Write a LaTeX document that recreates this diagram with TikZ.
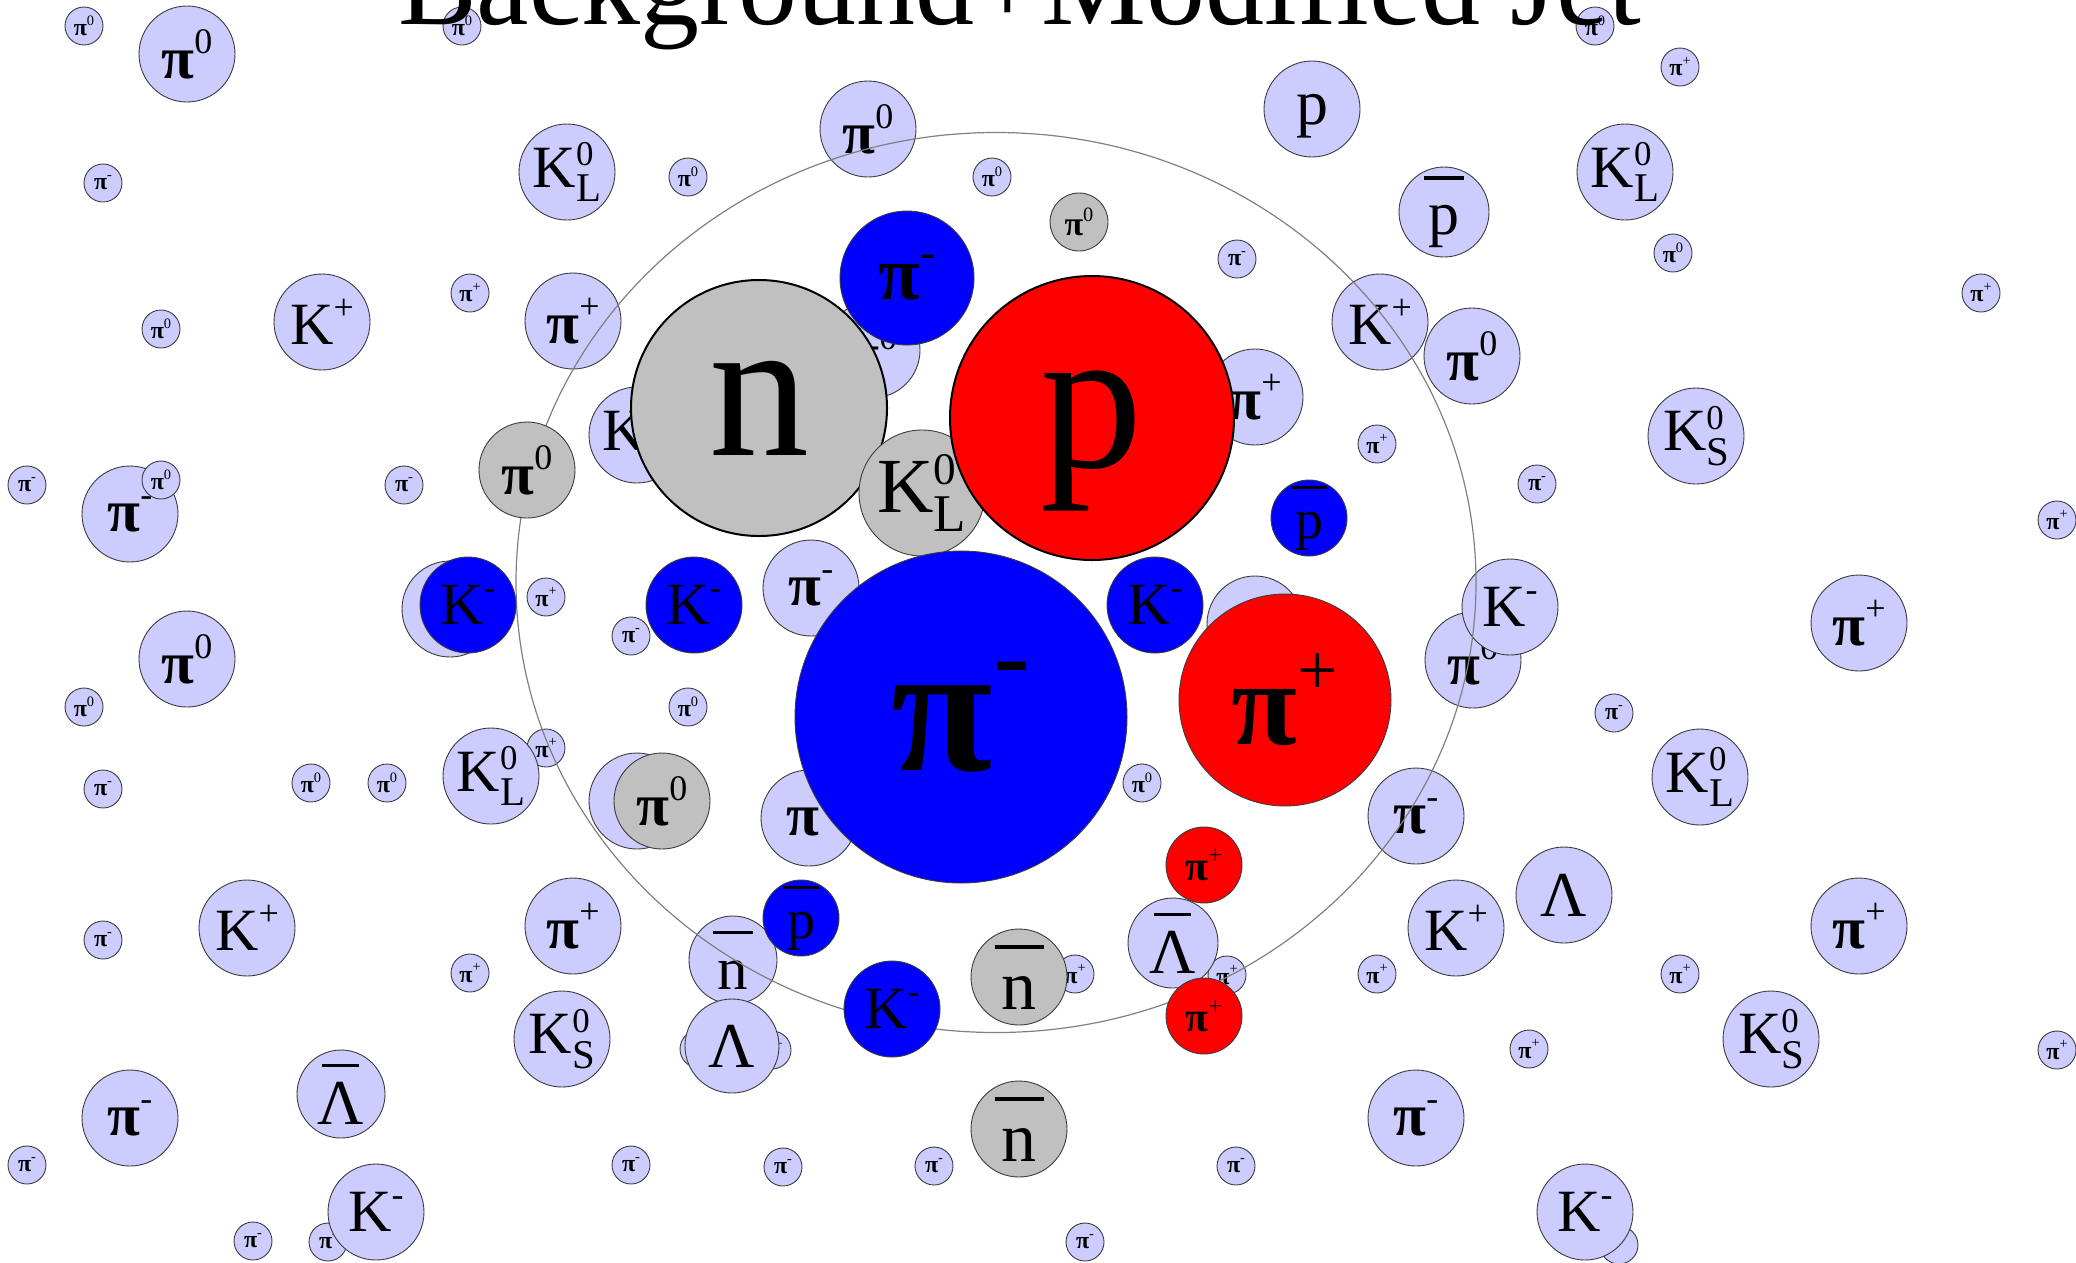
\documentclass[tikz,border=0pt]{standalone}
\usepackage{graphicx}
\usepackage{fontspec}
\setmainfont{Liberation Serif}
\usetikzlibrary{shapes.geometric}
\definecolor{lav}{RGB}{204,204,255}
\definecolor{blueA}{RGB}{0,0,255}
\definecolor{redA}{RGB}{255,0,0}
\definecolor{grayA}{RGB}{192,192,192}
\definecolor{edgeA}{RGB}{60,60,60}
\definecolor{jetA}{RGB}{128,128,128}
\newcommand\Lsup[1]{\raisebox{0.42em}{\scalebox{0.6}{#1}}}
\newcommand\Lsubsup[2]{\rlap{\raisebox{0.36em}{\scalebox{0.58}{#1}}}\raisebox{-0.24em}{\scalebox{0.68}{#2}}}
\newcommand\Lpi{{\bfseries π}}
\newcommand\Lpz{\Lpi\Lsup{0}}
\newcommand\Lpp{\Lpi\Lsup{+}}
\newcommand\Lpm{\Lpi\Lsup{-}}
\newcommand\LKp{K\Lsup{+}}
\newcommand\LKm{K\Lsup{-}}
\newcommand\LKL{K\Lsubsup{0}{L}}
\newcommand\LKS{K\Lsubsup{0}{S}}
\newcommand\Lbar[3]{\makebox[0pt][l]{\hspace{#1}\rule[#3]{#2}{0.055em}}}
\newcommand\Lnb{\Lbar{-0.07em}{0.64em}{0.9em}n}
\newcommand\Lnbg{\Lbar{-0.1em}{0.7em}{0.86em}n}
\newcommand\Lpb{\Lbar{-0.065em}{0.63em}{0.88em}p}
\newcommand\LLamb{\Lbar{0.07em}{0.58em}{0.89em}Λ}
\newcommand\Lp{\vphantom{d}p}
\newcommand\ptc[6]{\node[#1, minimum size=#4pt, label={[lab, font=\fontsize{#5}{#5}\selectfont]center:#6}] (#2) at (#3) {};}
\begin{document}
\begin{tikzpicture}[x=1pt,y=-1pt,
  base/.style={circle, inner sep=0pt, line width=0.9pt, draw=edgeA},
  lt/.style={base, fill=lav},
  bl/.style={base, fill=blueA},
  rd/.style={base, fill=redA},
  gy/.style={base, fill=grayA},
  thickedge/.style={line width=2pt, draw=black},
  lab/.style={inner sep=0pt, text=black},
  jetline/.style={ellipse, draw=jetA, line width=1.2pt, inner sep=0pt}]
\clip (0,0) rectangle (2076,1262);
% ---- light background particles
\ptc{lt}{s1}{84,26}{38}{24}{\Lpz}
\ptc{lt}{s2}{462,26}{38}{24}{\Lpz}
\ptc{lt}{s3}{1595,26}{38}{24}{\Lpz}
\ptc{lt}{s4}{1680,67}{38}{24}{\Lpp}
\ptc{lt}{s5}{103,183}{38}{24}{\Lpm}
\ptc{lt}{s6}{688,177}{38}{24}{\Lpz}
\ptc{lt}{s7}{992,177}{38}{24}{\Lpz}
\ptc{lt}{s8}{161,329}{38}{24}{\Lpz}
\ptc{lt}{s9}{470,293}{38}{24}{\Lpp}
\ptc{lt}{s10}{1237,259}{38}{24}{\Lpm}
\ptc{lt}{s11}{1673,253}{38}{24}{\Lpz}
\ptc{lt}{s12}{1981,293}{38}{24}{\Lpp}
\ptc{lt}{s13}{27,485}{38}{24}{\Lpm}
\ptc{lt}{s15}{404,485}{38}{24}{\Lpm}
\ptc{lt}{s16}{1377,444}{38}{24}{\Lpp}
\ptc{lt}{s17}{1537,484}{38}{24}{\Lpm}
\ptc{lt}{s18}{2057,520}{38}{24}{\Lpp}
\ptc{lt}{s19}{546,597}{38}{24}{\Lpp}
\ptc{lt}{s20}{631,636}{38}{24}{\Lpm}
\ptc{lt}{s21}{84,707}{38}{24}{\Lpz}
\ptc{lt}{s22}{688,707}{38}{24}{\Lpz}
\ptc{lt}{s23}{1614,713}{38}{24}{\Lpm}
\ptc{lt}{s24}{546,748}{38}{24}{\Lpp}
\ptc{lt}{s25}{103,789}{38}{24}{\Lpm}
\ptc{lt}{s26}{311,783}{38}{24}{\Lpz}
\ptc{lt}{s27}{387,783}{38}{24}{\Lpz}
\ptc{lt}{s28}{1142,783}{38}{24}{\Lpz}
\ptc{lt}{s29}{103,940}{38}{24}{\Lpm}
\ptc{lt}{s30}{470,973}{38}{24}{\Lpp}
\ptc{lt}{s31}{1075,974}{38}{24}{\Lpp}
\ptc{lt}{s32}{1227,975}{38}{24}{\Lpp}
\ptc{lt}{s33}{1377,974}{38}{24}{\Lpp}
\ptc{lt}{s34}{1680,974}{38}{24}{\Lpp}
\ptc{lt}{s35}{699,1049}{38}{24}{\Lpp}
\ptc{lt}{s36}{772,1050}{38}{24}{\Lpp}
\ptc{lt}{s37}{1529,1049}{38}{24}{\Lpp}
\ptc{lt}{s38}{2057,1050}{38}{24}{\Lpp}
\ptc{lt}{s39}{27,1165}{38}{24}{\Lpm}
\ptc{lt}{s40}{631,1165}{38}{24}{\Lpm}
\ptc{lt}{s41}{783,1167}{38}{24}{\Lpm}
\ptc{lt}{s42}{934,1166}{38}{24}{\Lpm}
\ptc{lt}{s43}{1236,1166}{38}{24}{\Lpm}
\ptc{lt}{s44}{253,1241}{38}{24}{\Lpm}
\ptc{lt}{s45}{328,1242}{38}{24}{\Lpm}
\ptc{lt}{s46}{1085,1242}{38}{24}{\Lpm}
\ptc{lt}{s47}{1619,1245}{38}{24}{}
% medium light
\ptc{lt}{m1}{187,54}{96}{60}{\Lpz}
\ptc{lt}{m2}{567,172}{96}{60}{\LKL}
\ptc{lt}{m3}{868,129}{96}{60}{\Lpz}
\ptc{lt}{m4}{1312,109}{96}{64}{\Lp}
\ptc{lt}{m5}{1444,212}{90}{62}{\Lpb}
\ptc{lt}{m6}{1625,172}{96}{60}{\LKL}
\ptc{lt}{m7}{322,322}{96}{60}{\LKp}
\ptc{lt}{m8}{573,321}{96}{60}{\Lpp}
\ptc{lt}{m9}{1380,322}{96}{60}{\LKp}
\ptc{lt}{m10}{1472,356}{96}{60}{\Lpz}
\ptc{lt}{m11}{1255,397}{96}{60}{\Lpp}
\ptc{lt}{m12}{872,350}{96}{60}{\Lpz}
\ptc{lt}{m13}{637,435}{96}{60}{\LKL}
\ptc{lt}{m14}{1696,436}{96}{60}{\LKS}
\ptc{lt}{m15}{130,514}{96}{60}{\Lpm}
\ptc{lt}{s14}{161,480}{38}{24}{\Lpz}
\ptc{lt}{m16}{450,609}{96}{60}{}
\ptc{lt}{m17}{811,588}{96}{60}{\Lpm}
\ptc{lt}{m18}{1255,624}{96}{60}{}
\ptc{lt}{m19}{1473,660}{96}{60}{\Lpz}
\ptc{lt}{m20}{1510,607}{96}{60}{\LKm}
\ptc{lt}{m21}{187,659}{96}{60}{\Lpz}
\ptc{lt}{m22}{491,776}{96}{60}{\LKL}
\ptc{lt}{m23}{1700,777}{96}{60}{\LKL}
\ptc{lt}{m24}{1859,623}{96}{60}{\Lpp}
\ptc{lt}{m25}{637,801}{96}{60}{}
\ptc{lt}{m26}{809,818}{96}{60}{\Lpm}
\ptc{lt}{m27}{1416,816}{96}{60}{\Lpm}
\ptc{lt}{m28}{247,928}{96}{60}{\LKp}
\ptc{lt}{m29}{573,926}{96}{60}{\Lpp}
\ptc{lt}{m30}{733,960}{88}{61}{\Lnb}
\ptc{lt}{m31}{732,1046}{94}{64}{Λ}
\ptc{lt}{m32}{1173,943}{90}{64}{\LLamb}
\ptc{lt}{m33}{1456,928}{96}{60}{\LKp}
\ptc{lt}{m34}{1564,895}{96}{64}{Λ}
\ptc{lt}{m35}{1859,926}{96}{60}{\Lpp}
\ptc{lt}{m36}{562,1039}{96}{60}{\LKS}
\ptc{lt}{m37}{1771,1039}{96}{60}{\LKS}
\ptc{lt}{m38}{130,1118}{96}{60}{\Lpm}
\ptc{lt}{m39}{341,1094}{88}{64}{\LLamb}
\ptc{lt}{m40}{1416,1118}{96}{60}{\Lpm}
\ptc{lt}{m41}{376,1212}{96}{60}{\LKm}
\ptc{lt}{m42}{1585,1212}{96}{60}{\LKm}
% jet cone
\node[jetline, minimum width=960pt, minimum height=900pt] (jet) at (996,582.5) {};
% modified jet particles
\ptc{gy, thickedge}{c1}{759,408}{256}{200}{n}
\ptc{bl}{c2}{907,278}{134}{76}{\Lpm}
\ptc{gy}{c3}{922,493}{126}{78}{\LKL}
\ptc{rd, thickedge}{c4}{1092,418}{284}{205}{\Lp}
\ptc{gy}{c5}{1079,222}{58}{34}{\Lpz}
\ptc{gy}{c6}{527,470}{96}{60}{\Lpz}
\ptc{bl}{c7}{468,605}{96}{60}{\LKm}
\ptc{bl}{c8}{694,605}{96}{60}{\LKm}
\ptc{bl}{c9}{1309,518}{76}{56}{\Lpb}
\ptc{bl}{c10}{1155,605}{96}{60}{\LKm}
\ptc{bl}{c11}{961,717}{332}{185}{\Lpm}
\ptc{rd}{c12}{1285,700}{212}{120}{\Lpp}
\ptc{gy}{c13}{662,801}{96}{60}{\Lpz}
\ptc{rd}{c14}{1204,865}{76}{42}{\Lpp}
\ptc{bl}{c15}{801,918}{76}{56}{\Lpb}
\ptc{bl}{c16}{892,1009}{96}{60}{\LKm}
\ptc{gy}{c17}{1019,977}{96}{70}{\Lnbg}
\ptc{gy}{c18}{1019,1129}{96}{70}{\Lnbg}
\ptc{rd}{c19}{1204,1016}{76}{42}{\Lpp}
% title
\node[anchor=base west, inner sep=0pt, font=\fontsize{118}{118}\selectfont] (title) at (398,24) {Background+Modified Jet};
\end{tikzpicture}
\end{document}
